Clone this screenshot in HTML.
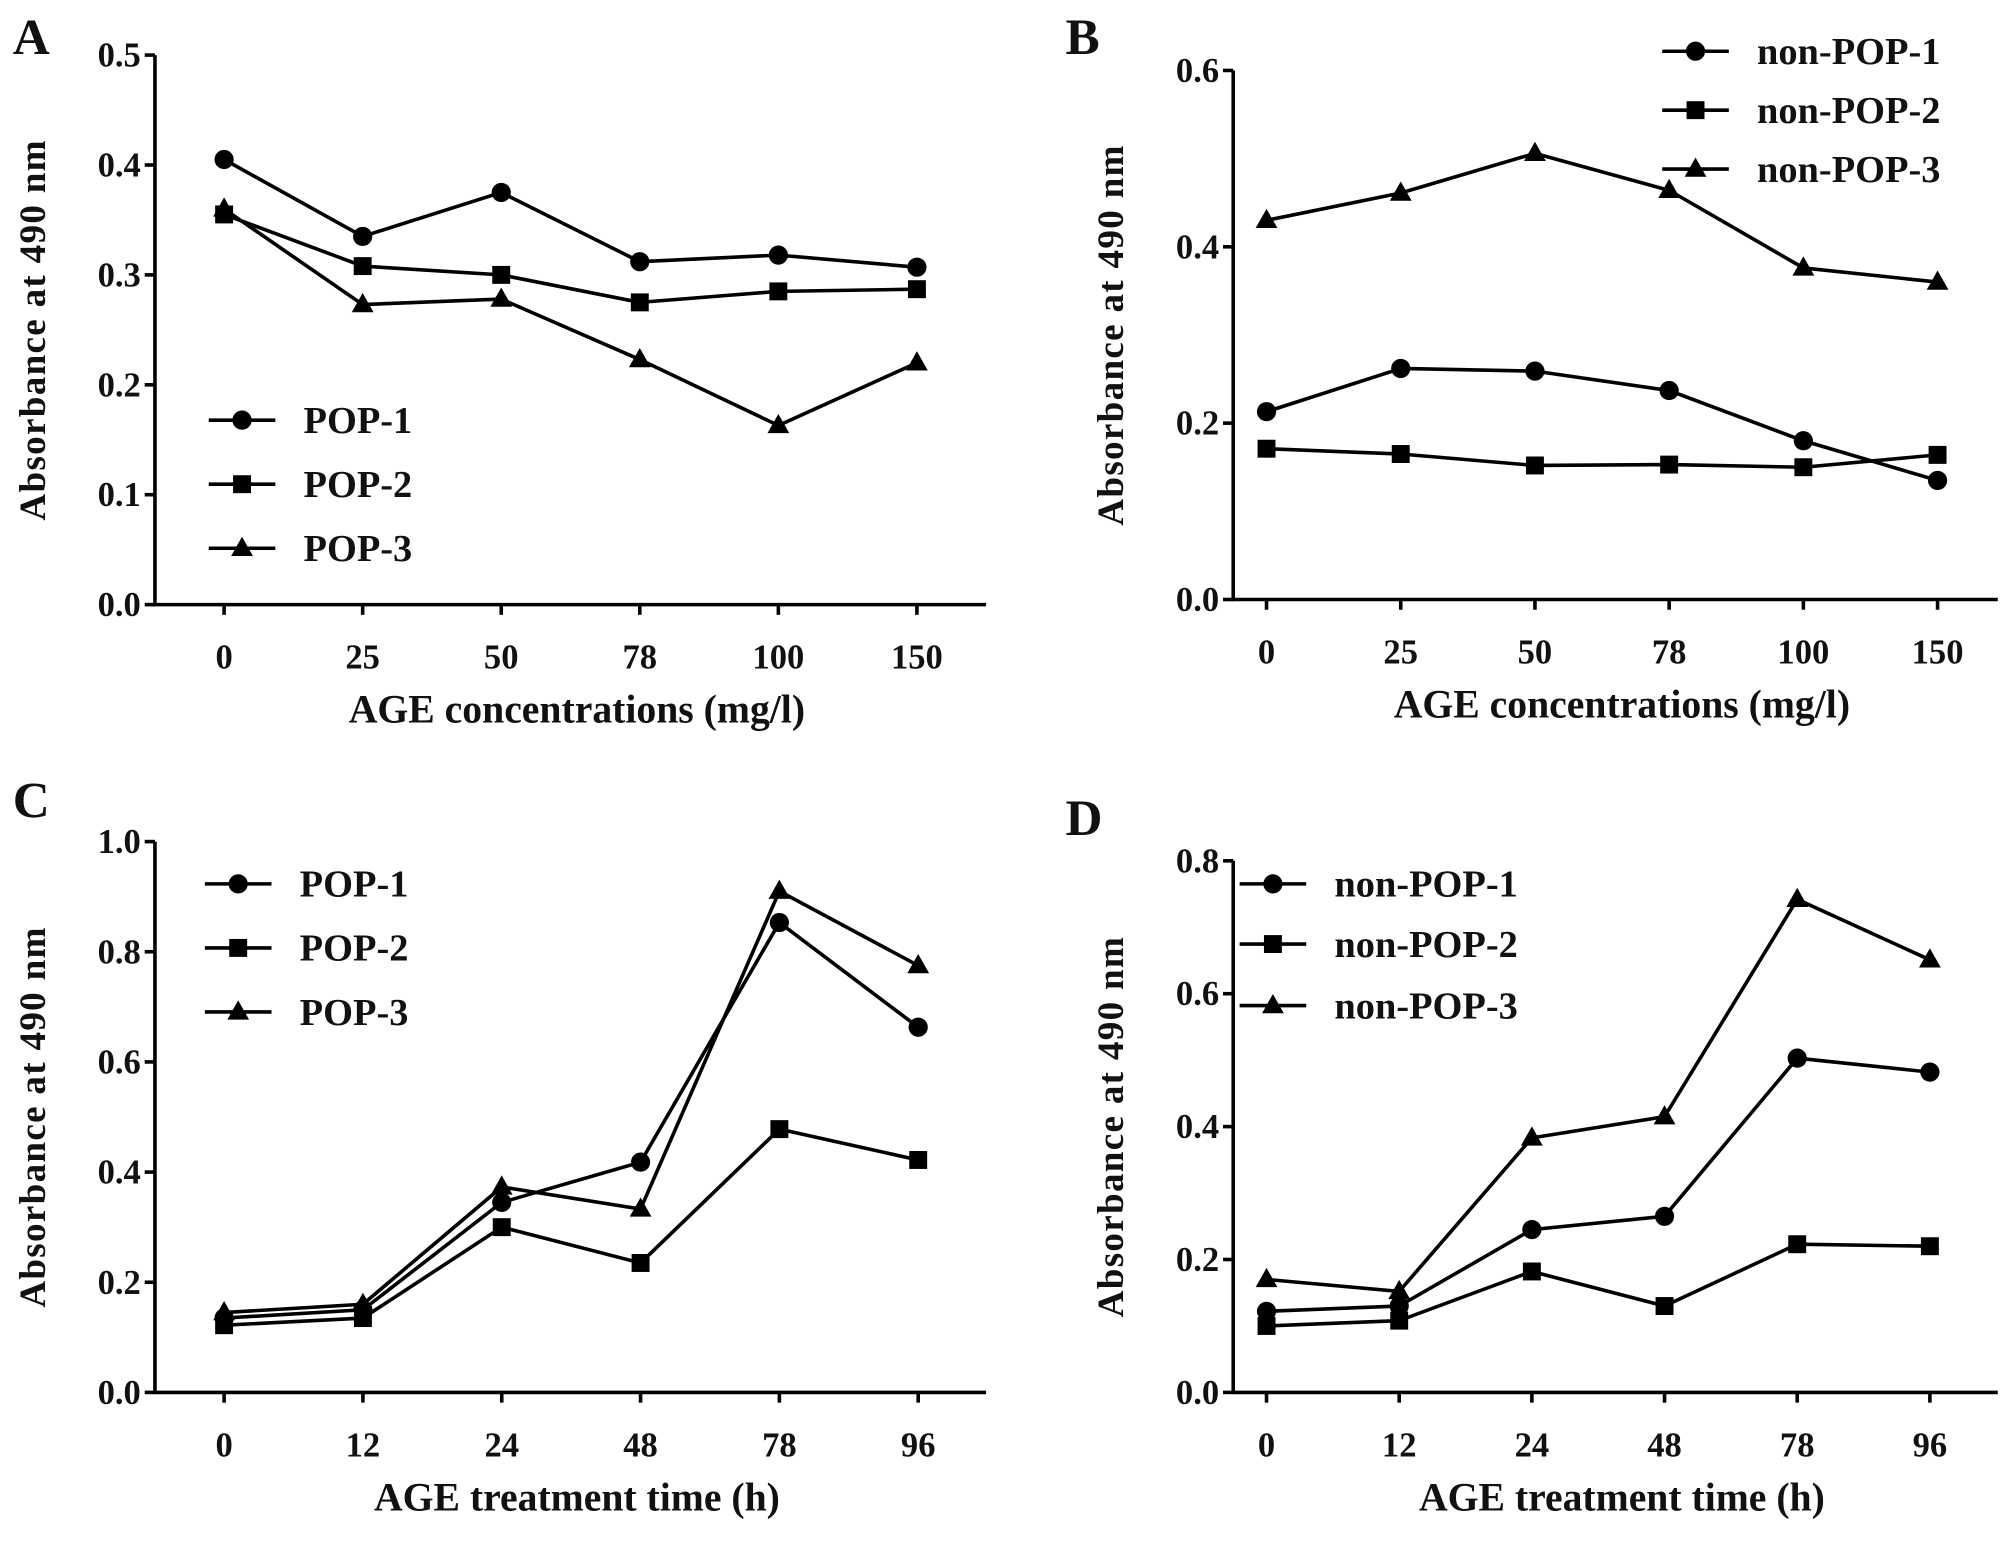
<!DOCTYPE html>
<html><head><meta charset="utf-8"><style>
html,body{margin:0;padding:0;background:#fff}
svg{display:block}
text{font-family:"Liberation Serif",serif;font-weight:bold;fill:#111}
</style></head><body>
<svg id="fig" width="2008" height="1541" viewBox="0 0 1568 1203" preserveAspectRatio="none"></svg>
<script>
const catsConc = ["0","25","50","78","100","150"];
const catsTime = ["0","12","24","48","78","96"];
const aPop1 = [0.405,0.335,0.375,0.312,0.318,0.307];
const aPop2 = [0.355,0.308,0.300,0.275,0.285,0.287];
const aPop3 = [0.360,0.273,0.278,0.223,0.163,0.220];
const bNon1 = [0.213,0.262,0.259,0.237,0.180,0.135];
const bNon2 = [0.171,0.165,0.152,0.153,0.150,0.164];
const bNon3 = [0.430,0.461,0.506,0.464,0.376,0.360];
const cPop1 = [0.135,0.150,0.345,0.418,0.853,0.663];
const cPop2 = [0.122,0.135,0.300,0.235,0.478,0.422];
const cPop3 = [0.145,0.160,0.373,0.333,0.910,0.775];
const dNon1 = [0.122,0.130,0.245,0.265,0.503,0.482];
const dNon2 = [0.100,0.108,0.182,0.130,0.223,0.220];
const dNon3 = [0.170,0.152,0.383,0.415,0.742,0.651];
const ticksA = ["0.0","0.1","0.2","0.3","0.4","0.5"];
const ticksB = ["0.0","0.2","0.4","0.6"];
const ticksC = ["0.0","0.2","0.4","0.6","0.8","1.0"];
const ticksD = ["0.0","0.2","0.4","0.6","0.8"];

const NS="http://www.w3.org/2000/svg";
const svg=document.getElementById('fig');
function mk(tag,attrs,parent){const e=document.createElementNS(NS,tag);for(const k in attrs)e.setAttribute(k,attrs[k]);(parent||svg).appendChild(e);return e;}
function marker(g,shape,x,y){
  if(shape==='circle')return mk('circle',{cx:x,cy:y,r:7.5,fill:'#000'},g);
  if(shape==='square')return mk('rect',{x:x-7,y:y-7,width:14,height:14,fill:'#000'},g);
  return mk('polygon',{points:`${x},${y-9} ${x-8.5},${y+6} ${x+8.5},${y+6}`,fill:'#000'},g);
}
function panel(p){
  const g=mk('g',{});
  
  
  const ymax=parseFloat(p.ticks[p.ticks.length-1]);
  const yS=v=>p.y0-(v/ymax)*(p.y0-p.y1);
  const xS=i=>p.xs0+i*(p.xs1-p.xs0)/(p.cats.length-1);
  const lab=mk('text',{x:p.lx,y:p.ly,'font-size':40},g);lab.textContent=p.id;
  
  const ax=mk('path',{d:`M${p.ax},${p.y1}V${p.y0}H${p.axEnd}`,stroke:'#000','stroke-width':2.8,fill:'none'},g);
  
  p.ticks.forEach(t=>{const y=yS(parseFloat(t));
    mk('line',{x1:p.ax-8,x2:p.ax,y1:y,y2:y,stroke:'#000','stroke-width':2.8},g);
    const tx=mk('text',{x:p.ax-11,y:y+9,'font-size':27,'text-anchor':'end'},g);tx.textContent=t;
    });
  p.cats.forEach((c,i)=>{const x=xS(i);
    mk('line',{x1:x,x2:x,y1:p.y0,y2:p.y0+8,stroke:'#000','stroke-width':2.8},g);
    const tx=mk('text',{x:x,y:p.y0+50,'font-size':27,'text-anchor':'middle'},g);tx.textContent=c;
    });
  const xt=mk('text',{x:(p.ax+p.axEnd)/2+5,y:p.y0+92,'font-size':31,'text-anchor':'middle'},g);xt.textContent=p.xtitle;
  
  const ycy=(p.y0+p.y1)/2;
  const yt=mk('text',{x:0,y:0,'font-size':29,'letter-spacing':1,'text-anchor':'middle',transform:`translate(${p.ax-86},${ycy}) rotate(-90)`},g);yt.textContent='Absorbance at 490 nm';
  
  const shapes=['circle','square','triangle'];
  p.series.forEach((s,k)=>{
    const sg=mk('g',{},g);
    
    mk('polyline',{points:s.map((v,i)=>xS(i)+','+yS(v)).join(' '),fill:'none',stroke:'#000','stroke-width':2.8},sg);
    s.forEach((v,i)=>{const m=marker(sg,shapes[k],xS(i),yS(v));
      });
    const ly=p.legY[k];
    const lg=mk('g',{},g);
    
    mk('line',{x1:p.legX,x2:p.legX+52,y1:ly,y2:ly,stroke:'#000','stroke-width':2.8},lg);
    marker(lg,shapes[k],p.legX+26,ly);
    const t=mk('text',{x:p.legX+74,y:ly+10,'font-size':30},lg);t.textContent=p.names[k];
  });
}
panel({id:'A',lx:10,ly:42,ax:121,axEnd:770,y0:472,y1:43,xs0:175,xs1:716,cats:catsConc,ticks:ticksA,
  series:[aPop1,aPop2,aPop3],names:['POP-1','POP-2','POP-3'],legX:163,legY:[328,378,428],xtitle:'AGE  concentrations (mg/l)'});
panel({id:'B',lx:832,ly:42,ax:963,axEnd:1560,y0:468,y1:55,xs0:989,xs1:1513,cats:catsConc,ticks:ticksB,
  series:[bNon1,bNon2,bNon3],names:['non-POP-1','non-POP-2','non-POP-3'],legX:1298,legY:[40,86,132],xtitle:'AGE  concentrations (mg/l)'});
panel({id:'C',lx:10,ly:638,ax:121,axEnd:770,y0:1087,y1:657,xs0:175,xs1:717,cats:catsTime,ticks:ticksC,
  series:[cPop1,cPop2,cPop3],names:['POP-1','POP-2','POP-3'],legX:160,legY:[690,740,790],xtitle:'AGE  treatment time (h)'});
panel({id:'D',lx:832,ly:652,ax:963,axEnd:1560,y0:1087,y1:672,xs0:989,xs1:1507,cats:catsTime,ticks:ticksD,
  series:[dNon1,dNon2,dNon3],names:['non-POP-1','non-POP-2','non-POP-3'],legX:968,legY:[690,737,785],xtitle:'AGE  treatment time (h)'});
</script>
</body></html>
